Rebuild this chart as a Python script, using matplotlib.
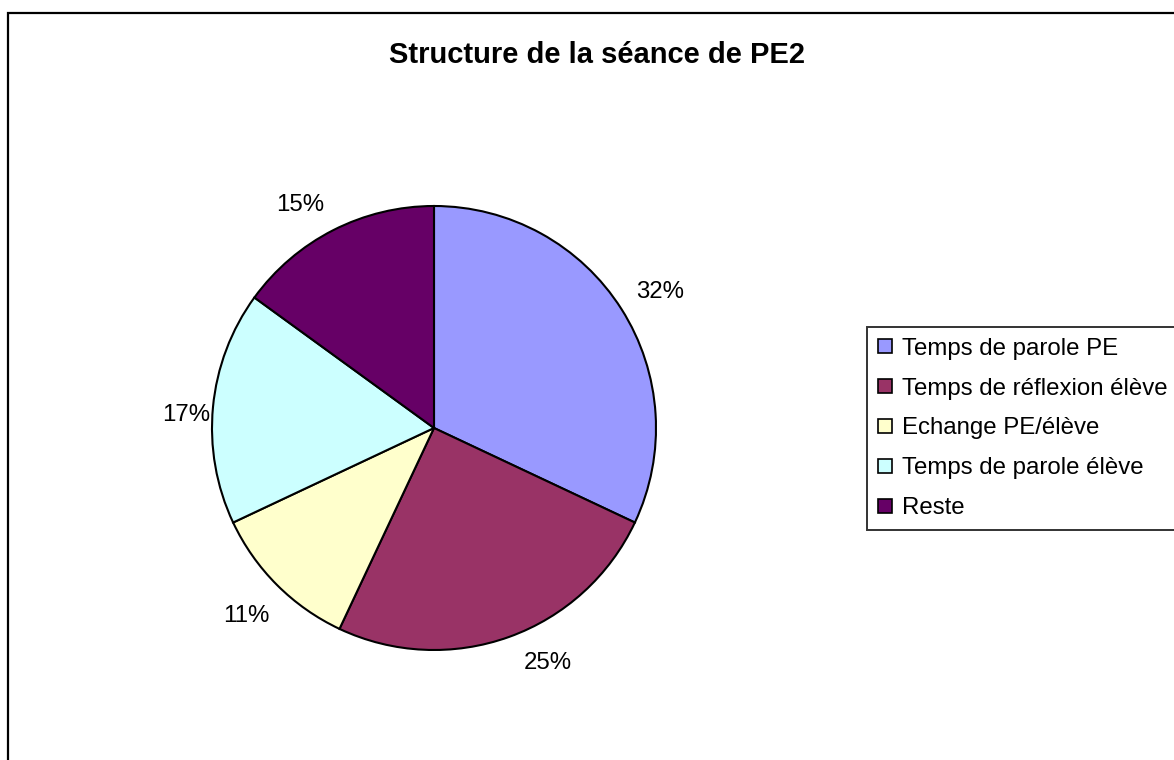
import matplotlib
matplotlib.use("Agg")
import numpy as np
import matplotlib.pyplot as plt
from matplotlib.lines import Line2D
from matplotlib.patches import Rectangle

plt.rcParams['font.family'] = ['Liberation Sans', 'DejaVu Sans']

categories = ["Temps de parole PE", "Temps de réflexion élève", "Echange PE/élève",
              "Temps de parole élève", "Reste"]
values = [32, 25, 11, 17, 15]
colors = ["#9999FF", "#993366", "#FFFFCC", "#CCFFFF", "#660066"]
title = "Structure de la séance de PE2"

# label placement tweaks (style only): radial distance and angular shift
label_dist = [1.19, 1.176, 1.198, 1.12, 1.17]
label_shift = [-1.4, 6.0, 0.0, 2.4, 4.0]

W, H = 1174, 760
fig = plt.figure(figsize=(W / 100, H / 100), dpi=100)

# outer chart-area border
fig.patches.append(Rectangle((8 / W, -0.05), 1.2, 1 - 13 / H + 0.05,
                             transform=fig.transFigure, fill=False,
                             edgecolor="black", linewidth=1.6, zorder=0))

cx, cy, R = 434, 428, 222
ax = fig.add_axes([(cx - R) / W, (H - cy - R) / H, 2 * R / W, 2 * R / H])
wedges, texts, autotexts = ax.pie(
    values, colors=colors, startangle=90, counterclock=False, radius=1,
    autopct=lambda p: f"{p:.0f}%", pctdistance=1.19,
    wedgeprops=dict(edgecolor="black", linewidth=1.5),
    textprops=dict(fontsize=17.3, color="black"))
for w, t, d, s in zip(wedges, autotexts, label_dist, label_shift):
    mid = np.deg2rad((w.theta1 + w.theta2) / 2 + s)
    t.set_position((d * np.cos(mid), d * np.sin(mid)))
ax.set_xlim(-1, 1)
ax.set_ylim(-1, 1)
ax.set_aspect("equal")
ax.axis("off")

fig.text(597 / W, 1 - 63 / H, title, ha="center", va="baseline",
         fontsize=21, fontweight="bold")

handles = [Line2D([], [], marker="s", linestyle="none", markersize=9.5,
                  markerfacecolor=c, markeredgecolor="black", markeredgewidth=1.2)
           for c in colors]
leg = fig.legend(handles, categories, loc="upper left",
                 bbox_to_anchor=(867 / W, 1 - 327 / H), borderaxespad=0,
                 fontsize=17.3, frameon=True, fancybox=False,
                 handlelength=0.6, handletextpad=0.4, labelspacing=0.74,
                 borderpad=0.45)
leg.get_frame().set_edgecolor("black")
leg.get_frame().set_linewidth(1.4)

fig.savefig("out.png", dpi=100, facecolor="white")
